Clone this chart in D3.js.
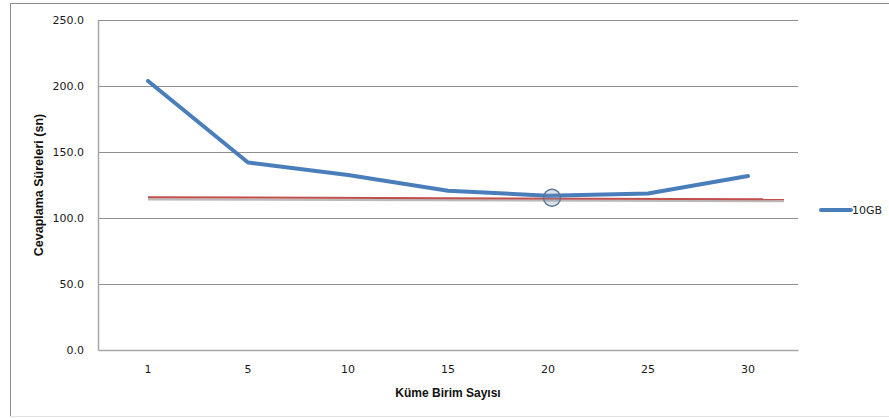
<!DOCTYPE html>
<html>
<head>
<meta charset="utf-8">
<script src="https://cdn.jsdelivr.net/npm/d3@7"></script>
<style>
  html, body { margin: 0; padding: 0; background: #fff; }
  svg { display: block; }
</style>
</head>
<body>
<svg id="chart" width="889" height="418"></svg>
<script>
// Response time (seconds) by cluster unit count
const categories = ["1", "5", "10", "15", "20", "25", "30"];
const values10GB = [203.8, 142.0, 132.6, 120.7, 116.8, 118.5, 131.8];
const yTicks = [0, 50, 100, 150, 200, 250];
const seriesName = "10GB";
const xTitle = "Küme Birim Sayısı";
const yTitle = "Cevaplama Süreleri (sn)";
// Reference line: start / end along the category index, with its level
const refLinePos = [0, 6.36];
const refLineVal = [115.7, 114.2];
// Highlighted point
const markIndex = 4;
const markValue = 115.3;

const svg = d3.select("#chart");
const W = 889, H = 418;
const m = { left: 98, top: 20, right: 91, bottom: 68 };
const pw = W - m.left - m.right, ph = H - m.top - m.bottom;

// outer frame
svg.append("rect").attr("x", 10.5).attr("y", 3.5).attr("width", W).attr("height", H - 5)
  .attr("fill", "none").attr("stroke", "#8c8c8c").attr("stroke-width", 1);
svg.append("line").attr("x1", 10).attr("x2", W).attr("y1", 416.5).attr("y2", 416.5)
  .attr("stroke", "#e2e2e2");

const x = d3.scaleBand().domain(categories).range([m.left, m.left + pw]).padding(0);
const xi = d3.scaleLinear().domain([0, 1]).range([x(categories[0]) + x.bandwidth() / 2, x(categories[1]) + x.bandwidth() / 2]);
const y = d3.scaleLinear().domain([0, 250]).range([m.top + ph, m.top]);

const g = svg.append("g");

// gridlines
g.selectAll("line.grid").data(yTicks.filter(d => d > 0)).join("line")
  .attr("class", "grid")
  .attr("x1", m.left).attr("x2", m.left + pw)
  .attr("y1", d => Math.round(y(d)) + 0.5).attr("y2", d => Math.round(y(d)) + 0.5)
  .attr("stroke", "#8f8f8f").attr("stroke-width", 1);

// y axis
const yAxis = d3.axisLeft(y).tickValues(yTicks).tickFormat(d3.format(".1f")).tickSize(0).tickPadding(14);
const ya = svg.append("g").attr("transform", `translate(${m.left},0)`).call(yAxis);
ya.select(".domain").attr("stroke", "#a6a6a6").attr("stroke-width", 1.5);
ya.selectAll("text").attr("font-family", "DejaVu Sans").attr("font-size", 11).attr("fill", "#1a1a1a");

// x axis
const xAxis = d3.axisBottom(x).tickSize(0).tickPadding(15);
const xa = svg.append("g").attr("transform", `translate(0,${m.top + ph})`).call(xAxis);
xa.select(".domain").attr("stroke", "#a6a6a6").attr("stroke-width", 1.5);
xa.selectAll("text").attr("font-family", "DejaVu Sans").attr("font-size", 11).attr("fill", "#1a1a1a");

// axis titles
svg.append("text").attr("x", m.left + pw / 2).attr("y", 397)
  .attr("text-anchor", "middle").attr("font-family", "Liberation Sans").attr("font-weight", "bold")
  .attr("font-size", 12).attr("fill", "#111").text(xTitle);
svg.append("text").attr("transform", `translate(43,${m.top + ph / 2}) rotate(-90)`)
  .attr("text-anchor", "middle").attr("font-family", "Liberation Sans").attr("font-weight", "bold")
  .attr("font-size", 12.5).attr("fill", "#111").text(yTitle);

// reference line with soft shadow
const refData = refLinePos.map((p, i) => ({ p, v: refLineVal[i] }));
const refGen = d3.line().x(d => xi(d.p)).y(d => y(d.v));
g.append("path").datum(refData).attr("d", refGen)
  .attr("transform", "translate(0,2)")
  .attr("fill", "none").attr("stroke", "#a9a9a9").attr("stroke-width", 2.2).attr("opacity", 0.8);
g.append("path").datum(refData).attr("d", refGen)
  .attr("fill", "none").attr("stroke", "#c0504d").attr("stroke-width", 2);

// main series
const lineGen = d3.line().x((d, i) => x(categories[i]) + x.bandwidth() / 2).y(d => y(d));
g.append("path").datum(values10GB).attr("d", lineGen)
  .attr("fill", "none").attr("stroke", "#4a7ebb").attr("stroke-width", 4)
  .attr("stroke-linecap", "round").attr("stroke-linejoin", "round");

// highlighted point
g.append("circle")
  .attr("cx", x(categories[markIndex]) + x.bandwidth() / 2 + 4)
  .attr("cy", y(markValue))
  .attr("r", 8.5)
  .attr("fill", "rgba(120,140,170,0.25)").attr("stroke", "#5a7596").attr("stroke-width", 1.5);

// legend
const lg = svg.append("g").attr("transform", "translate(821,210)");
lg.append("line").attr("x1", 0).attr("x2", 30).attr("y1", 0).attr("y2", 0)
  .attr("stroke", "#4a7ebb").attr("stroke-width", 4).attr("stroke-linecap", "round");
lg.append("text").attr("x", 31).attr("y", 4).attr("font-family", "DejaVu Sans").attr("font-size", 11)
  .attr("fill", "#222").text(seriesName);
</script>
</body>
</html>
